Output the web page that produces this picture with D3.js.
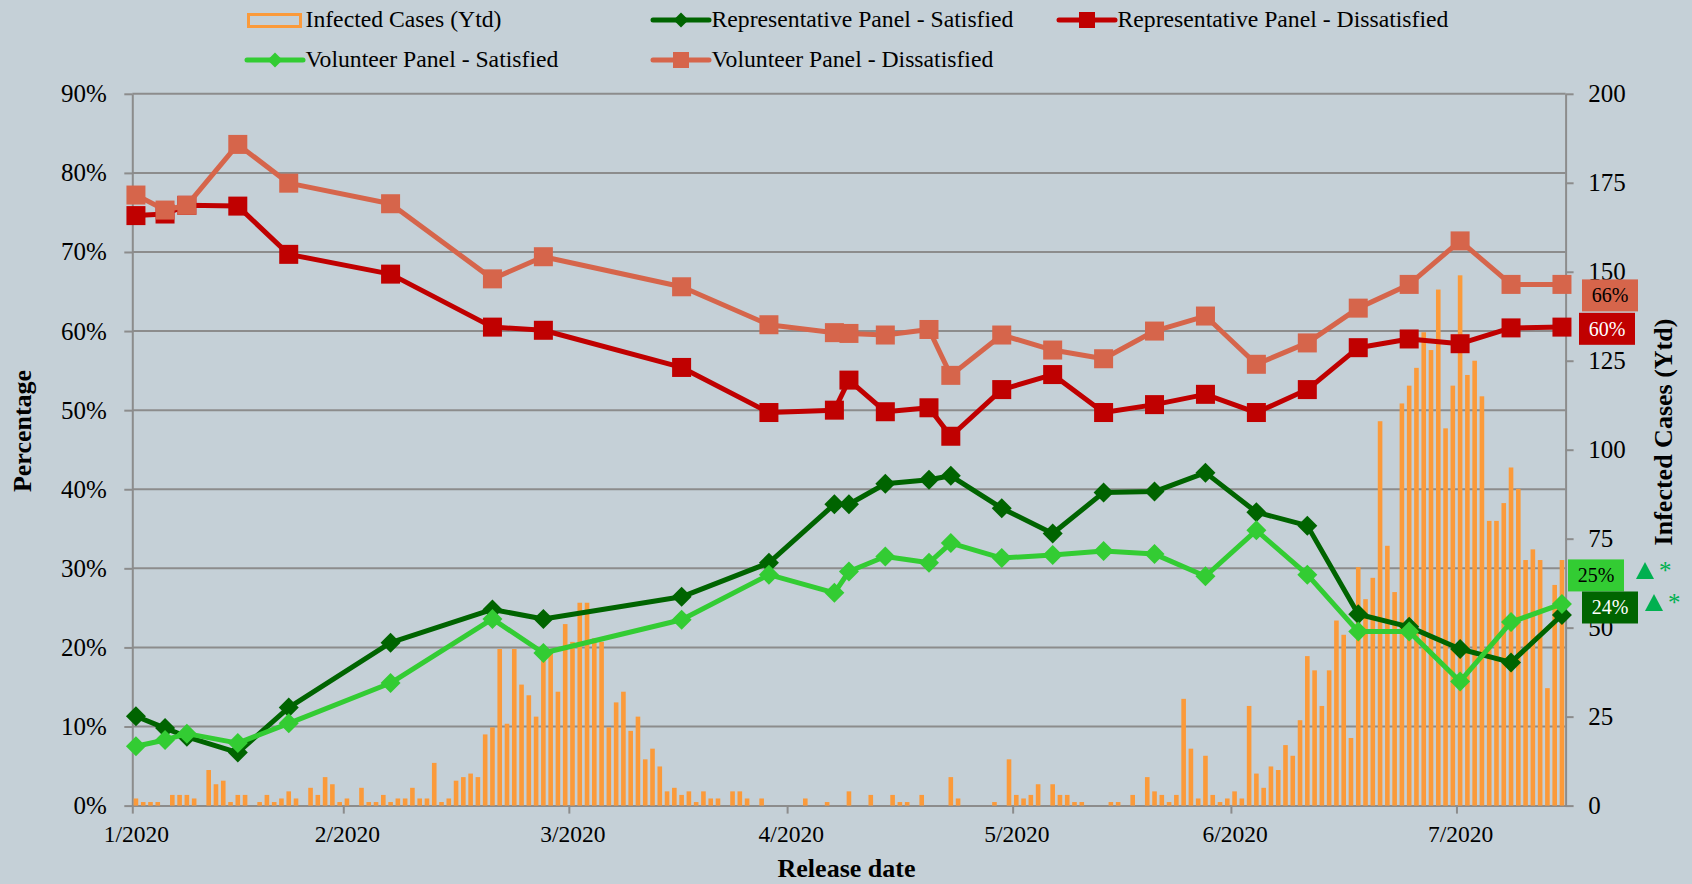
<!DOCTYPE html>
<html>
<head>
<meta charset="utf-8">
<script src="https://cdn.jsdelivr.net/npm/d3@7"></script>
<style>
html, body { margin: 0; padding: 0; background: #c5d0d7; }
svg { display: block; font-family: "Liberation Serif", "Times New Roman", serif; }
</style>
</head>
<body>
<div id="chart"></div>
<script>
// survey release dates (one point per release)
const releaseDates = [
    "2020-01-31", "2020-02-04", "2020-02-07", "2020-02-14", "2020-02-21", "2020-03-06",
    "2020-03-20", "2020-03-27", "2020-04-15", "2020-04-27", "2020-05-06", "2020-05-08",
    "2020-05-13", "2020-05-19", "2020-05-22", "2020-05-29", "2020-06-05", "2020-06-12",
    "2020-06-19", "2020-06-26", "2020-07-03", "2020-07-10", "2020-07-17", "2020-07-24",
    "2020-07-31", "2020-08-07", "2020-08-14"
]
const repSatisfied = [
    11.3, 9.8, 8.7, 6.7, 12.4, 20.6, 24.8, 23.6, 26.4, 30.7, 38.1, 38.1,
    40.7, 41.2, 41.7, 37.6, 34.4, 39.6, 39.7, 42.1, 37.1, 35.4, 24.2, 22.6,
    19.8, 18.1, 24.1
]
const repDissatisfied = [
    74.6, 74.8, 75.9, 75.8, 69.7, 67.2, 60.5, 60.1, 55.4, 49.7, 50.0, 53.8,
    49.8, 50.3, 46.7, 52.6, 54.5, 49.7, 50.7, 52.0, 49.7, 52.6, 57.9, 59.0,
    58.4, 60.4, 60.5
]
const volSatisfied = [
    7.5, 8.3, 9.1, 7.9, 10.4, 15.5, 23.6, 19.3, 23.5, 29.2, 26.9, 29.6,
    31.5, 30.7, 33.2, 31.3, 31.7, 32.2, 31.8, 29.0, 34.8, 29.2, 22.0, 22.0,
    15.7, 23.2, 25.5
]
const volDissatisfied = [
    77.2, 75.3, 75.9, 83.6, 78.7, 76.1, 66.6, 69.4, 65.6, 60.8, 59.8, 59.7,
    59.5, 60.2, 54.4, 59.5, 57.6, 56.5, 60.0, 61.9, 55.8, 58.5, 62.9, 65.9,
    71.4, 65.9, 65.9
]

// daily infected cases, one value per day from casesStart
const casesStart = "2020-01-31"
const dailyCases = [
    2, 1, 1, 1, 0, 3, 3, 3, 2, 0, 10, 6, 7, 1, 3, 3, 0, 1, 3, 1,
    2, 4, 2, 0, 5, 3, 8, 6, 1, 2, 0, 5, 1, 1, 3, 1, 2, 2, 5, 2,
    2, 12, 1, 2, 7, 8, 9, 8, 20, 22, 44, 23, 44, 34, 31, 25, 41, 43, 32, 51,
    46, 57, 57, 47, 46, 22, 29, 32, 21, 25, 13, 16, 11, 4, 5, 3, 4, 1, 4, 2,
    2, 0, 4, 4, 2, 0, 2, 0, 0, 0, 0, 0, 2, 0, 0, 1, 0, 0, 4, 0,
    0, 3, 0, 0, 3, 1, 1, 0, 3, 0, 0, 0, 8, 2, 0, 0, 0, 0, 1, 0,
    13, 3, 2, 3, 6, 0, 6, 3, 3, 1, 1, 0, 0, 0, 1, 1, 0, 3, 0, 8,
    4, 3, 1, 3, 30, 16, 2, 14, 3, 1, 2, 4, 2, 28, 9, 5, 11, 10, 17, 14,
    24, 42, 38, 28, 38, 52, 48, 19, 67, 58, 64, 108, 73, 60, 113, 118, 123, 133, 128, 145,
    106, 118, 149, 121, 125, 115, 80, 80, 85, 95, 89, 69, 72, 69, 33, 62, 69
]

const monthTicks = ["2020-01-31", "2020-02-29", "2020-03-31", "2020-04-30", "2020-05-31", "2020-06-30", "2020-07-31"]
const pctTicks = [0, 10, 20, 30, 40, 50, 60, 70, 80, 90]
const caseTicks = [0, 25, 50, 75, 100, 125, 150, 175, 200]
const xDomain = ["2020-01-31", "2020-08-15"]

const endLabels = [
    { key: "volDis", text: "66%" },
    { key: "repDis", text: "60%" },
    { key: "volSat", text: "25%" },
    { key: "repSat", text: "24%" },
]

const colors = {
    repSat: "#006400",
    repDis: "#c00000",
    volSat: "#33cc33",
    volDis: "#d6654b",
    cases: "#fb9a3a",
    grid: "#8c8c8c",
    up: "#00b050",
    bg: "#c5d0d7",
}

const W = 1692, H = 884
const plot = { left: 132.3, right: 1565.6, top: 93.8, bottom: 805.6 }
const parse = d3.utcParse("%Y-%m-%d")

const series = [
    { key: "repSat", name: "Representative Panel - Satisfied", values: repSatisfied, marker: "diamond" },
    { key: "repDis", name: "Representative Panel - Dissatisfied", values: repDissatisfied, marker: "square" },
    { key: "volSat", name: "Volunteer Panel - Satisfied", values: volSatisfied, marker: "diamond" },
    { key: "volDis", name: "Volunteer Panel - Dissatisfied", values: volDissatisfied, marker: "square" },
].map(s => ({ ...s, points: s.values.map((v, i) => ({ date: parse(releaseDates[i]), value: v })) }))

const start = parse(casesStart)
const cases = dailyCases.map((v, i) => ({ date: d3.utcDay.offset(start, i), value: v }))

const x = d3.scaleUtc().domain(xDomain.map(parse)).range([plot.left, plot.right])
const yPct = d3.scaleLinear().domain([0, 90]).range([plot.bottom, plot.top])
const yCases = d3.scaleLinear().domain([0, 200]).range([plot.bottom, plot.top])
const halfDay = (x(d3.utcDay.offset(start, 1)) - x(start)) / 2
const xc = d => x(d) + halfDay

const svg = d3.select("#chart").append("svg")
    .attr("width", W)
    .attr("height", H)

svg.append("rect").attr("width", W).attr("height", H).attr("fill", colors.bg)

// horizontal gridlines from the percentage axis
svg.append("g").selectAll("line")
    .data(pctTicks.filter(d => d > 0))
    .join("line")
    .attr("x1", plot.left).attr("x2", plot.right)
    .attr("y1", d => yPct(d)).attr("y2", d => yPct(d))
    .attr("stroke", colors.grid)
    .attr("stroke-width", 2)

const styleAxis = (g, size) => {
    g.attr("font-family", null).attr("font-size", size)
    g.selectAll("path, line").attr("stroke", colors.grid).attr("stroke-width", 2)
    g.selectAll("text").attr("fill", "#000")
}

svg.append("g")
    .attr("transform", `translate(${plot.left},0)`)
    .call(d3.axisLeft(yPct).tickValues(pctTicks).tickFormat(d => d + "%")
        .tickSize(8).tickSizeOuter(0).tickPadding(17.6))
    .call(g => styleAxis(g, 25))

svg.append("g")
    .attr("transform", `translate(${plot.right},0)`)
    .call(d3.axisRight(yCases).tickValues(caseTicks)
        .tickSize(8).tickSizeOuter(0).tickPadding(14.7))
    .call(g => styleAxis(g, 25))

svg.append("g")
    .attr("transform", `translate(0,${plot.bottom})`)
    .call(d3.axisBottom(x).tickValues(monthTicks.map(parse)).tickFormat(d3.utcFormat("%-m/%Y"))
        .tickSize(8).tickSizeOuter(0).tickPadding(11.5))
    .call(g => styleAxis(g, 23.5))
    .call(g => g.selectAll(".tick text").attr("x", halfDay))

// daily cases bars
svg.append("g").selectAll("rect")
    .data(cases.filter(d => d.value > 0))
    .join("rect")
    .attr("x", d => xc(d.date) - 2.3)
    .attr("width", 4.6)
    .attr("y", d => yCases(d.value))
    .attr("height", d => yCases(0) - yCases(d.value))
    .attr("fill", colors.cases)

const line = d3.line()
    .x(d => xc(d.date))
    .y(d => yPct(d.value))

const diamond = r => `M0,${-r}L${r},0L0,${r}L${-r},0Z`

const drawMarker = (g, type, color, size) => {
    if (type == "square") {
        g.append("rect")
            .attr("x", -size / 2).attr("y", -size / 2)
            .attr("width", size).attr("height", size)
            .attr("fill", color)
    } else {
        g.append("path").attr("d", diamond(size / 2 + 0.5)).attr("fill", color)
    }
}

series.forEach(s => {
    const g = svg.append("g")
    g.append("path")
        .attr("d", line(s.points))
        .attr("fill", "none")
        .attr("stroke", colors[s.key])
        .attr("stroke-width", 5)
        .attr("stroke-linejoin", "round")
    g.selectAll("g")
        .data(s.points)
        .join("g")
        .attr("transform", d => `translate(${xc(d.date)},${yPct(d.value)})`)
        .each(function () { drawMarker(d3.select(this), s.marker, colors[s.key], 19) })
})

// end-of-series value boxes
const labelLayout = {
    volDis: { x: 1582, dy: 11, fill: "#000" },
    repDis: { x: 1579, dy: 1.7, fill: "#fff" },
    volSat: { x: 1568, dy: -28.5, fill: "#000", arrow: [21, -5] },
    repSat: { x: 1582, dy: -7.5, fill: "#fff", arrow: [16, -5] },
}
endLabels.forEach(l => {
    const s = series.find(d => d.key == l.key)
    const last = s.points[s.points.length - 1]
    const lay = labelLayout[l.key]
    const cy = yPct(last.value) + lay.dy
    const g = svg.append("g").attr("transform", `translate(${lay.x},${cy})`)
    g.append("rect")
        .attr("x", 0).attr("y", -16)
        .attr("width", 56).attr("height", 32)
        .attr("fill", colors[l.key])
    g.append("text")
        .attr("x", 28).attr("y", 7)
        .attr("text-anchor", "middle")
        .attr("font-size", 20)
        .attr("fill", lay.fill)
        .text(l.text)
    if (lay.arrow) {
        const [ax, ay] = lay.arrow
        g.append("path")
            .attr("d", `M${56 + ax},${ay - 8.5}L${56 + ax + 9},${ay + 8.5}L${56 + ax - 9},${ay + 8.5}Z`)
            .attr("fill", colors.up)
        g.append("text")
            .attr("x", 56 + ax + 14).attr("y", ay + 9)
            .attr("font-size", 25)
            .attr("fill", colors.up)
            .text("*")
    }
})

// legend
const legendItems = [
    { key: "cases", name: "Infected Cases (Ytd)", col: 0, row: 0 },
    { key: "repSat", name: series[0].name, col: 1, row: 0, marker: "diamond" },
    { key: "repDis", name: series[1].name, col: 2, row: 0, marker: "square" },
    { key: "volSat", name: series[2].name, col: 0, row: 1, marker: "diamond" },
    { key: "volDis", name: series[3].name, col: 1, row: 1, marker: "square" },
]
const legendCols = [247, 653, 1059]
const legendRows = [20, 60]

const lg = svg.append("g").selectAll("g")
    .data(legendItems)
    .join("g")
    .attr("transform", d => `translate(${legendCols[d.col]},${legendRows[d.row]})`)

lg.each(function (d) {
    const g = d3.select(this)
    if (d.key == "cases") {
        g.append("rect")
            .attr("x", 1.5).attr("y", -5.5)
            .attr("width", 52).attr("height", 12)
            .attr("fill", "none")
            .attr("stroke", colors.cases)
            .attr("stroke-width", 3)
    } else {
        g.append("line")
            .attr("x1", 0).attr("x2", 56)
            .attr("stroke", colors[d.key])
            .attr("stroke-width", 5)
            .attr("stroke-linecap", "round")
        const m = g.append("g").attr("transform", "translate(28,0)")
        drawMarker(m, d.marker, colors[d.key], d.marker == "square" ? 16 : 14)
    }
    g.append("text")
        .attr("x", 58.5).attr("y", 7.3)
        .attr("font-size", 23.7)
        .attr("fill", "#000")
        .text(d.name)
})

// axis titles
svg.append("text")
    .attr("transform", "translate(31,431) rotate(-90)")
    .attr("text-anchor", "middle")
    .attr("font-size", 26).attr("font-weight", "bold")
    .text("Percentage")

svg.append("text")
    .attr("transform", "translate(1672,432) rotate(-90)")
    .attr("text-anchor", "middle")
    .attr("font-size", 26).attr("font-weight", "bold")
    .text("Infected Cases (Ytd)")

svg.append("text")
    .attr("x", 846.5).attr("y", 877)
    .attr("text-anchor", "middle")
    .attr("font-size", 26).attr("font-weight", "bold")
    .text("Release date")
</script>
</body>
</html>
